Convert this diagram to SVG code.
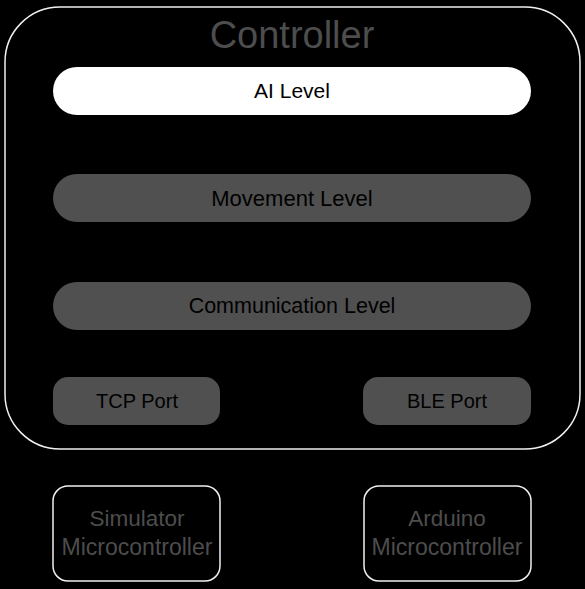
<svg xmlns="http://www.w3.org/2000/svg" width="585" height="589" viewBox="0 0 585 589">
<defs>
<style>
text{font-family:"Liberation Sans",Arial,sans-serif;text-anchor:middle}
.lvl{fill:#505050}
.lbl{font-size:21px;fill:#000}
.frame{fill:#000;stroke:#f0f0f0;stroke-width:1.5}
.dim{fill:#4d4d4d}
</style>
</defs>
<rect width="585" height="589" fill="#000"/>
<g id="controller">
<rect class="frame" x="5" y="7" width="575" height="442" rx="55" ry="55"/>
<text class="dim" x="292" y="48" font-size="38">Controller</text>
</g>
<g id="ai-level">
<rect x="53" y="67" width="478" height="48" rx="24" fill="#fff"/>
<text class="lbl" x="292" y="98" font-size="20">AI Level</text>
</g>
<g id="movement-level">
<rect class="lvl" x="53" y="174" width="478" height="48" rx="24"/>
<text class="lbl" x="292" y="206" style="font-size:22px">Movement Level</text>
</g>
<g id="communication-level">
<rect class="lvl" x="53" y="282" width="478" height="48" rx="24"/>
<text class="lbl" x="292" y="313" style="font-size:21.5px">Communication Level</text>
</g>
<g id="tcp-port">
<rect class="lvl" x="53" y="377" width="167" height="48" rx="15"/>
<text class="lbl" x="137" y="408" style="font-size:20px">TCP Port</text>
</g>
<g id="ble-port">
<rect class="lvl" x="363" y="377" width="168" height="48" rx="15"/>
<text class="lbl" x="447" y="408" style="font-size:20px">BLE Port</text>
</g>
<g id="simulator">
<rect class="frame" x="53" y="486" width="167" height="95" rx="15"/>
<text class="dim" x="137" y="526" font-size="22.5">Simulator</text>
<text class="dim" x="137" y="555" font-size="23">Microcontroller</text>
</g>
<g id="arduino">
<rect class="frame" x="364" y="486" width="167" height="95" rx="15"/>
<text class="dim" x="447" y="526" font-size="22.5">Arduino</text>
<text class="dim" x="447" y="555" font-size="23">Microcontroller</text>
</g>
<g id="connectors"></g>
</svg>
